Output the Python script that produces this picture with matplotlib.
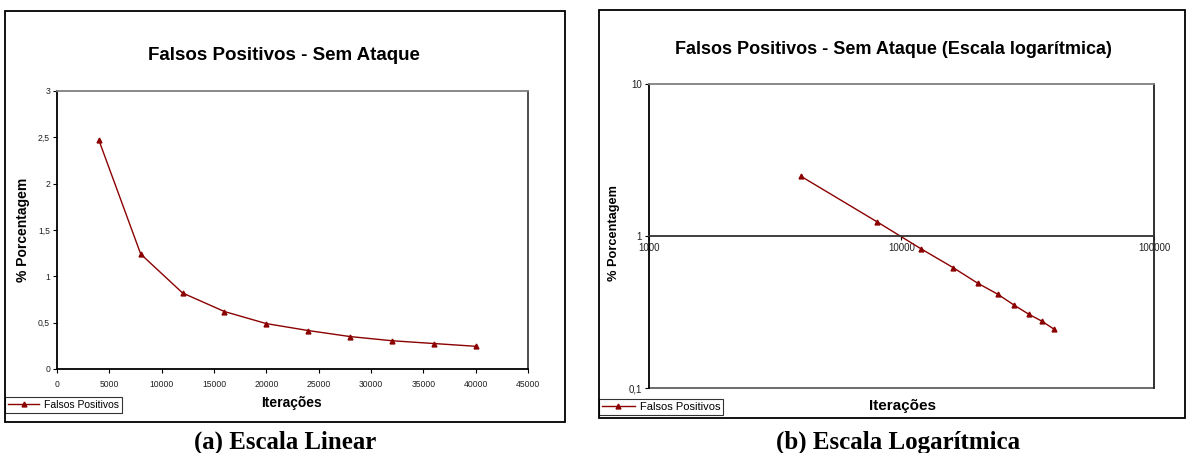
import matplotlib
matplotlib.use("Agg")
import matplotlib.pyplot as plt
from matplotlib.patches import Rectangle
from matplotlib.ticker import FixedLocator, NullLocator

W, H = 1186, 453

iteracoes = [4000, 8000, 12000, 16000, 20000, 24000, 28000, 32000, 36000, 40000]
falsos_positivos = [2.47, 1.24, 0.82, 0.62, 0.49, 0.415, 0.35, 0.305, 0.275, 0.245]

lin_xticks = [0, 5000, 10000, 15000, 20000, 25000, 30000, 35000, 40000, 45000]
lin_yticks = [0, 0.5, 1, 1.5, 2, 2.5, 3]
lin_yticklabels = ["0", "0,5", "1", "1,5", "2", "2,5", "3"]
log_xticks = [1000, 10000, 100000]
log_xticklabels = ["1000", "10000", "100000"]
log_yticks = [0.1, 1, 10]
log_yticklabels = ["0,1", "1", "10"]

RED = "#8b0000"
SANS = "Liberation Sans"
SERIF = "Liberation Serif"
plt.rcParams["font.family"] = SANS


def fx(px):
    return px / W


def fy(py):
    return 1 - py / H


def axes_px(fig, x0, y0, x1, y1):
    return fig.add_axes([fx(x0), fy(y1), fx(x1 - x0), (y1 - y0) / H])


def frame_px(fig, x0, y0, x1, y1):
    fig.patches.append(Rectangle((fx(x0), fy(y1)), fx(x1 - x0), (y1 - y0) / H,
                                 transform=fig.transFigure, fill=False,
                                 edgecolor="black", linewidth=1.3))


fig = plt.figure(figsize=(W / 100, H / 100), dpi=100)

# ---- (a) linear scale ----
frame_px(fig, 5, 11, 565, 422)
ax1 = axes_px(fig, 57, 91, 528, 369)
ax1.plot(iteracoes, falsos_positivos, color=RED, lw=1, marker="^", ms=3.5,
         label="Falsos Positivos")
ax1.set_xlim(0, 45000)
ax1.set_ylim(0, 3)
ax1.set_xticks(lin_xticks)
ax1.set_xticklabels([str(t) for t in lin_xticks])
ax1.set_yticks(lin_yticks)
ax1.set_yticklabels(lin_yticklabels)
ax1.tick_params(labelsize=6.2, length=3, width=0.8, pad=2, labelcolor="#202020")
ax1.tick_params(axis="x", pad=5)
for s in ["left", "bottom"]:
    ax1.spines[s].set_linewidth(1.3)
ax1.spines["top"].set_color("#808080")
ax1.spines["top"].set_linewidth(1.3)
ax1.spines["right"].set_color("#404040")
ax1.spines["right"].set_linewidth(1.3)

fig.text(fx(284), fy(56), "Falsos Positivos - Sem Ataque", ha="center", va="center",
         fontsize=13.5, fontweight="bold")
fig.text(fx(292), fy(403), "Iterações", ha="center", va="center",
         fontsize=10, fontweight="bold")
fig.text(fx(23), fy(230), "% Porcentagem", ha="center", va="center",
         rotation=90, fontsize=10, fontweight="bold")
fig.text(fx(285), fy(442), "(a) Escala Linear", ha="center", va="center",
         fontsize=17.9, fontweight="bold", family=SERIF)
leg1 = ax1.legend(loc="lower left", bbox_to_anchor=(fx(5), fy(413)),
                  bbox_transform=fig.transFigure, fontsize=7.5, frameon=True,
                  fancybox=False, edgecolor="black", borderpad=0.3,
                  handlelength=3.0, handletextpad=0.4, borderaxespad=0)
leg1.get_frame().set_linewidth(0.8)

# ---- (b) log scale ----
frame_px(fig, 599, 10, 1185, 418)
ax2 = axes_px(fig, 649, 84, 1154, 388)
ax2.plot(iteracoes, falsos_positivos, color=RED, lw=1, marker="^", ms=3.5,
         label="Falsos Positivos")
ax2.set_xscale("log")
ax2.set_yscale("log")
ax2.set_xlim(1000, 100000)
ax2.set_ylim(0.1, 10)
ax2.xaxis.set_major_locator(FixedLocator(log_xticks))
ax2.xaxis.set_minor_locator(NullLocator())
ax2.yaxis.set_major_locator(FixedLocator(log_yticks))
ax2.yaxis.set_minor_locator(NullLocator())
ax2.set_xticklabels(log_xticklabels)
ax2.set_yticklabels(log_yticklabels)
ax2.tick_params(labelsize=7, length=3, width=0.8, pad=2, labelcolor="#202020")
ax2.tick_params(axis="x", pad=2)
ax2.spines["bottom"].set_position(("data", 1))
ax2.spines["bottom"].set_color("#303030")
ax2.spines["bottom"].set_linewidth(1.3)
ax2.spines["left"].set_linewidth(1.3)
ax2.spines["top"].set_color("#808080")
ax2.spines["top"].set_linewidth(1.3)
ax2.spines["right"].set_color("#202020")
ax2.spines["right"].set_linewidth(1.3)
ax2.plot([0, 1], [0, 0], transform=ax2.transAxes, color="#606060", lw=1.3,
         clip_on=False)

fig.text(fx(893), fy(49), "Falsos Positivos - Sem Ataque (Escala logarítmica)",
         ha="center", va="center", fontsize=13, fontweight="bold")
fig.text(fx(903), fy(406), "Iterações", ha="center", va="center",
         fontsize=11, fontweight="bold")
fig.text(fx(614), fy(233), "% Porcentagem", ha="center", va="center",
         rotation=90, fontsize=9.2, fontweight="bold")
fig.text(fx(898), fy(442), "(b) Escala Logarítmica", ha="center", va="center",
         fontsize=18, fontweight="bold", family=SERIF)
leg2 = ax2.legend(loc="lower left", bbox_to_anchor=(fx(599), fy(415)),
                  bbox_transform=fig.transFigure, fontsize=8, frameon=True,
                  fancybox=False, edgecolor="black", borderpad=0.25,
                  handlelength=3.0, handletextpad=0.4, borderaxespad=0)
leg2.get_frame().set_linewidth(0.8)

fig.savefig("out.png", dpi=100)
